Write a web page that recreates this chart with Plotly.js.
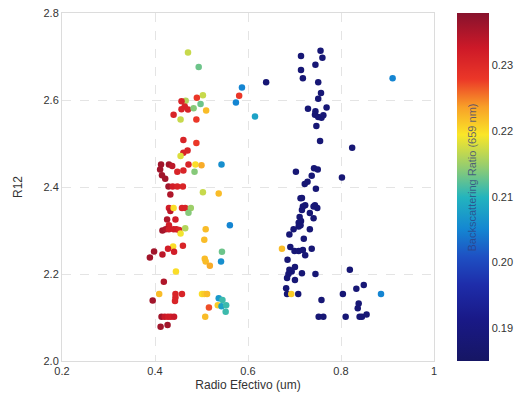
<!DOCTYPE html>
<html>
<head>
<meta charset="utf-8">
<script src="https://cdn.plot.ly/plotly-3.0.1.min.js"></script>
<style>html,body{margin:0;padding:0;background:#fff;}#chart{width:522px;height:398px;}</style>
</head>
<body>
<div id="chart"></div>
<script>
// Radio efectivo (um)
const radio = [
0.471,0.494,0.587,0.581,0.574,0.615,0.503,0.490,0.466,0.457,
0.464,0.457,0.471,0.483,0.498,0.510,0.440,0.455,0.489,0.461,
0.489,0.470,0.461,0.455,0.413,0.430,0.437,0.411,0.415,0.422,
0.448,0.461,0.472,0.487,0.500,0.485,0.543,0.429,0.438,0.448,
0.460,0.433,0.503,0.537,0.430,0.433,0.440,0.458,0.465,0.477,
0.472,0.426,0.444,0.430,0.416,0.423,0.430,0.440,0.446,0.452,
0.455,0.465,0.509,0.561,0.506,0.439,0.428,0.460,0.441,0.398,
0.416,0.389,0.544,0.542,0.507,0.509,0.518,0.445,0.419,0.409,
0.395,0.444,0.444,0.443,0.458,0.501,0.506,0.512,0.537,0.545,
0.535,0.543,0.553,0.552,0.516,0.508,0.414,0.421,0.428,0.434,
0.441,0.412,0.427,
0.639,0.714,0.756,0.760,0.745,0.714,0.718,0.751,0.757,0.751,
0.729,0.745,0.769,0.744,0.751,0.758,0.762,0.747,0.755,0.824,
0.742,0.750,0.703,0.737,0.802,0.728,0.722,0.746,0.716,0.713,
0.723,0.718,0.716,0.744,0.749,0.741,0.733,0.711,0.714,0.709,
0.713,0.709,0.741,0.733,0.698,0.689,0.720,0.691,0.700,0.709,
0.718,0.723,0.737,0.685,0.701,0.689,0.694,0.687,0.684,0.701,
0.716,0.745,0.819,0.682,0.684,0.708,0.849,0.833,0.804,0.758,
0.838,0.836,0.752,0.762,0.810,0.840,0.845,0.855,
0.911,0.673,0.693,0.886
];
// R12
const r12 = [
2.709,2.676,2.629,2.610,2.594,2.562,2.611,2.605,2.598,2.597,
2.585,2.579,2.578,2.581,2.591,2.576,2.566,2.555,2.555,2.508,
2.501,2.484,2.479,2.471,2.452,2.452,2.448,2.440,2.427,2.419,
2.435,2.438,2.452,2.452,2.450,2.435,2.452,2.401,2.401,2.401,
2.401,2.383,2.388,2.385,2.352,2.345,2.352,2.352,2.352,2.352,
2.341,2.325,2.325,2.312,2.300,2.303,2.303,2.303,2.303,2.301,
2.293,2.305,2.303,2.312,2.279,2.263,2.258,2.265,2.251,2.252,
2.245,2.238,2.251,2.229,2.235,2.229,2.219,2.206,2.182,2.154,
2.139,2.154,2.146,2.138,2.154,2.154,2.154,2.154,2.144,2.140,
2.128,2.126,2.128,2.113,2.123,2.102,2.102,2.102,2.102,2.102,
2.102,2.079,2.083,
2.641,2.701,2.713,2.697,2.681,2.669,2.650,2.641,2.616,2.603,
2.580,2.574,2.583,2.566,2.561,2.559,2.565,2.540,2.506,2.490,
2.443,2.440,2.435,2.426,2.422,2.412,2.407,2.396,2.375,2.374,
2.358,2.355,2.347,2.358,2.352,2.355,2.340,2.331,2.322,2.318,
2.312,2.309,2.328,2.303,2.303,2.291,2.281,2.262,2.253,2.253,
2.255,2.243,2.258,2.233,2.216,2.210,2.206,2.200,2.191,2.186,
2.202,2.200,2.210,2.167,2.154,2.154,2.175,2.166,2.154,2.140,
2.132,2.121,2.102,2.102,2.102,2.102,2.102,2.107,
2.650,2.258,2.154,2.154
];
// Backscattering ratio (659 nm)
const backscatter = [
0.217,0.213,0.205,0.228,0.205,0.208,0.217,0.228,0.216,0.231,
0.231,0.231,0.231,0.214,0.213,0.222,0.231,0.217,0.228,0.231,
0.228,0.231,0.231,0.218,0.236,0.236,0.234,0.236,0.236,0.236,
0.231,0.231,0.231,0.220,0.223,0.214,0.206,0.236,0.232,0.231,
0.231,0.235,0.217,0.222,0.232,0.234,0.220,0.231,0.231,0.215,
0.214,0.235,0.232,0.232,0.236,0.235,0.232,0.232,0.232,0.231,
0.219,0.216,0.222,0.205,0.222,0.220,0.232,0.231,0.232,0.236,
0.234,0.236,0.213,0.206,0.222,0.222,0.223,0.220,0.235,0.222,
0.236,0.231,0.231,0.231,0.231,0.220,0.221,0.222,0.207,0.211,
0.221,0.208,0.211,0.211,0.227,0.222,0.236,0.233,0.232,0.232,
0.233,0.236,0.236,
0.188,0.188,0.188,0.188,0.188,0.188,0.188,0.188,0.188,0.188,
0.188,0.188,0.188,0.188,0.188,0.188,0.188,0.188,0.188,0.188,
0.188,0.188,0.188,0.188,0.188,0.188,0.188,0.188,0.188,0.188,
0.188,0.188,0.188,0.188,0.188,0.188,0.188,0.188,0.188,0.188,
0.188,0.188,0.188,0.188,0.188,0.188,0.188,0.188,0.188,0.188,
0.188,0.188,0.188,0.188,0.188,0.188,0.188,0.188,0.188,0.188,
0.188,0.188,0.188,0.188,0.188,0.188,0.188,0.188,0.188,0.188,
0.188,0.188,0.188,0.188,0.188,0.188,0.188,0.188,
0.205,0.222,0.221,0.205
];
const xTicks = [0.2,0.4,0.6,0.8,1];
const xTickText = ['0.2','0.4','0.6','0.8','1'];
const yTicks = [2.0,2.2,2.4,2.6,2.8];
const yTickText = ['2.0','2.2','2.4','2.6','2.8'];
const cTicks = [0.19,0.20,0.21,0.22,0.23];
const cTickText = ['0.19','0.20','0.21','0.22','0.23'];

const colorscale = [
  [0.0,'rgb(22,22,100)'],
  [0.12,'rgb(25,25,135)'],
  [0.22,'rgb(30,45,170)'],
  [0.3,'rgb(30,80,195)'],
  [0.38,'rgb(20,135,210)'],
  [0.47,'rgb(35,180,190)'],
  [0.56,'rgb(150,205,110)'],
  [0.65,'rgb(250,230,40)'],
  [0.73,'rgb(248,160,40)'],
  [0.81,'rgb(235,55,40)'],
  [0.9,'rgb(205,25,40)'],
  [1.0,'rgb(135,18,45)']
];

const trace = {
  type: 'scatter',
  mode: 'markers',
  x: radio,
  y: r12,
  marker: {
    size: 6.5,
    color: backscatter,
    colorscale: colorscale,
    cmin: 0.185,
    cmax: 0.238,
    line: {width: 0},
    colorbar: {
      x: 1.061, xanchor: 'left', xref: 'paper',
      y: 0, yanchor: 'bottom', len: 1, lenmode: 'fraction',
      thickness: 32, thicknessmode: 'pixels',
      xpad: 0, ypad: 0,
      outlinewidth: 0,
      tickmode: 'array', tickvals: cTicks, ticktext: cTickText,
      ticks: '', ticklen: 2,
      tickfont: {family: 'Liberation Sans, Arial, sans-serif', size: 11, color: '#333'}
    }
  },
  hoverinfo: 'x+y'
};

const gridStyle = {gridcolor: '#e4e4e4', griddash: 'dash', gridwidth: 1};
const layout = {
  width: 522, height: 398,
  margin: {l: 62, r: 83, t: 13, b: 37, pad: 0},
  paper_bgcolor: '#fff', plot_bgcolor: '#fff',
  showlegend: false,
  font: {family: 'Liberation Sans, Arial, sans-serif', size: 11, color: '#333'},
  xaxis: Object.assign({
    range: [0.2, 1.0], tickmode: 'array', tickvals: xTicks, ticktext: xTickText,
    showline: true, linecolor: '#dcdcdc', linewidth: 1, mirror: true,
    zeroline: false, ticks: '', ticklen: 0,
    tickfont: {size: 11, color: '#333'},
    title: {text: 'Radio Efectivo (um)', font: {size: 12, color: '#333'}, standoff: 4}
  }, gridStyle),
  yaxis: Object.assign({
    range: [2.0, 2.8], tickmode: 'array', tickvals: yTicks, ticktext: yTickText,
    showline: true, linecolor: '#dcdcdc', linewidth: 1, mirror: true,
    zeroline: false, ticks: '', ticklen: 0,
    tickfont: {size: 11, color: '#333'},
    title: {text: 'R12', font: {size: 12, color: '#333'}, standoff: 18}
  }, gridStyle),
  annotations: [{
    text: 'Backscattering Ratio (659 nm)',
    xref: 'paper', yref: 'paper',
    x: (478 - 62) / 377, y: 1 - (177 - 13) / 348,
    xanchor: 'center', yanchor: 'middle',
    textangle: -90, showarrow: false,
    font: {family: 'Liberation Sans, Arial, sans-serif', size: 11, color: 'rgba(50,60,125,0.75)'}
  }]
};

Plotly.newPlot('chart', [trace], layout, {displayModeBar: false, staticPlot: true});
</script>
</body>
</html>
